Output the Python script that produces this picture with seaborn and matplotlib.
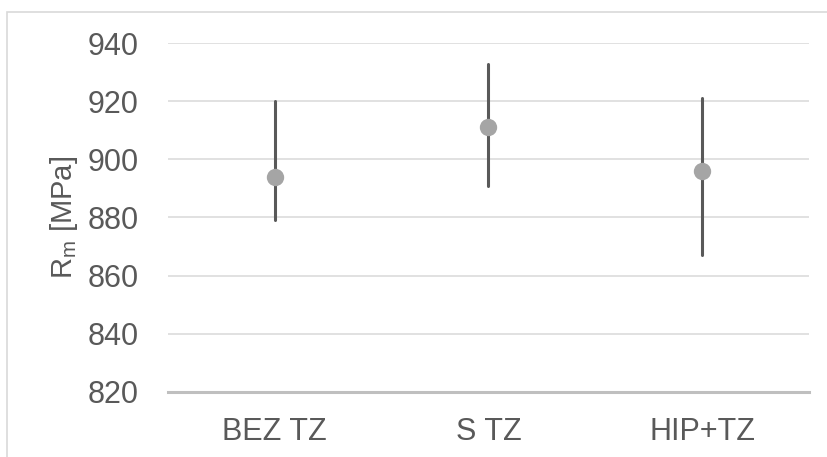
import numpy as np
import pandas as pd
import matplotlib
matplotlib.use("Agg")
import matplotlib.pyplot as plt
import seaborn as sns
from matplotlib.patches import Rectangle

# values (MPa)
categories = ["BEZ TZ", "S TZ", "HIP+TZ"]
rm_mean = [894, 911, 896]
rm_low = [879, 891, 867]
rm_high = [920, 933, 921]

# long table: low / mean / high per group -> median = mean, 100% interval = low..high
df = pd.DataFrame({
    "group": np.repeat(categories, 3),
    "Rm": [v for trio in zip(rm_low, rm_mean, rm_high) for v in trio],
})

sns.set_theme(style="white")
plt.rcParams["font.family"] = ["Liberation Sans", "DejaVu Sans"]
plt.rcParams["mathtext.fontset"] = "custom"
plt.rcParams["mathtext.rm"] = "Liberation Sans"
plt.rcParams["mathtext.it"] = "Liberation Sans"

txt = "#595959"
fig = plt.figure(figsize=(8.28, 4.57), dpi=100)
ax = fig.add_axes([0.2029, 0.1429, 0.774, 0.7624])

sns.pointplot(data=df, x="group", y="Rm", order=categories,
              estimator="median", errorbar=("pi", 100),
              linestyle="none", color="#a5a5a5", markersize=12.5,
              err_kws={"color": "#595959", "linewidth": 2.2, "zorder": 1},
              ax=ax)
for ln in ax.lines:
    if ln.get_marker() not in (None, "None", ""):
        ln.set_zorder(3)
        ln.set_markeredgewidth(0)

ax.set_ylim(820, 940)
ax.set_xlim(-0.5, 2.5)
ax.set_yticks(range(820, 941, 20))
ax.set_axisbelow(True)
ax.yaxis.grid(True, color="#d9d9d9", linewidth=1.1)
for s in ["top", "right", "left"]:
    ax.spines[s].set_visible(False)
ax.spines["bottom"].set_color("#bfbfbf")
ax.spines["bottom"].set_linewidth(2.2)

ax.tick_params(axis="y", length=0, pad=21, labelsize=22, labelcolor=txt)
ax.tick_params(axis="x", length=0, pad=18, labelsize=22, labelcolor=txt)
ax.set_xlabel("")
ax.set_ylabel(r"R$_\mathregular{m}$ [MPa]", fontsize=21, color=txt)
ax.yaxis.set_label_coords(-0.138, 0.5)

# light frame around the chart area
fig.add_artist(Rectangle((0.009, -0.5), 2, 0.9744 + 0.5, transform=fig.transFigure,
                         fill=False, edgecolor="#d9d9d9", linewidth=1.2))

fig.savefig("out.png", dpi=100)
